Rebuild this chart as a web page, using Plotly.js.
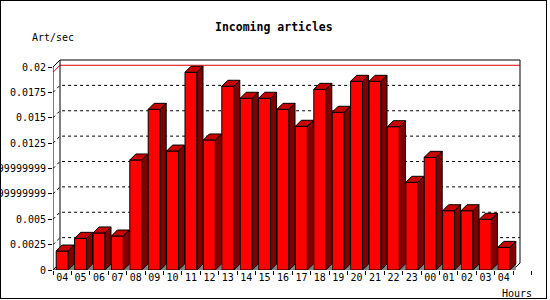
<!DOCTYPE html>
<html><head><meta charset="utf-8">
<script src="https://cdn.plot.ly/plotly-3.0.1.min.js"></script>
<style>
html,body{margin:0;padding:0;background:#fff;}
#wrap{position:relative;width:550px;height:300px;}
#chart{width:550px;height:300px;}
#frame{position:absolute;left:0;top:0;width:545px;height:297px;border:1px solid #000;pointer-events:none;}
</style></head>
<body><div id="wrap"><div id="chart"></div><div id="frame"></div></div>
<script>
// ---- data ----
const hours = ['04','05','06','07','08','09','10','11','12','13','14','15','16','17','18','19','20','21','22','23','00','01','02','03','04'];
const artPerSec = [0.00187,0.00312,0.00365,0.00335,0.01084,0.01583,0.01172,0.01948,0.01281,0.0181,0.01692,0.01692,0.01583,0.01416,0.0178,0.01554,0.01859,0.01859,0.01412,0.00864,0.0111,0.00584,0.00584,0.005,0.00223];
const yTickVals = [0,0.0025,0.005,0.0075,0.01,0.0125,0.015,0.0175,0.02];
const yTickText = ['0','0.0025','0.005','0.00749999999999','0.00999999999999','0.0125','0.015','0.0175','0.02'];

// ---- geometry (pixels) ----
const W=550,H=300;
const left=53, frontRight=513, zeroPx=270, topPx=67;
const n = hours.length;
const pxX = (frontRight-left)/n;          // px per category
const yMaxTick = 0.02;
const pxY = (zeroPx-topPx)/yMaxTick;        // px per unit
const plotRight=532, plotTop=50;
const xMin=-0.5, xMax=-0.5+(plotRight-left)/pxX;
const yMin=0, yMax=(zeroPx-plotTop)/pxY;
const panelDX=7/pxX, panelDY=7/pxY;
const barDX=6/pxX, barDY=6/pxY;
const barW=12/pxX;
const xs = hours.map((h,i)=>i);

const shapes=[];
const xl=-0.5, xr=-0.5+n;
// back gridlines (dashed)
yTickVals.slice(1,-1).forEach(v=>{
  shapes.push({type:'path',xref:'x',yref:'y',layer:'below',
    path:`M${xl},${v} L${xl+panelDX},${v+panelDY} L${xr+panelDX},${v+panelDY}`,
    line:{color:'#000',width:1,dash:'3px,3px'}});
});
// max line (red)
const vmax=Math.max(...artPerSec);
shapes.push({type:'path',xref:'x',yref:'y',layer:'below',
  path:`M${xl},${vmax} L${xl+panelDX},${vmax+panelDY} L${xr+panelDX},${vmax+panelDY}`,
  line:{color:'#e00000',width:1}});
// frame
shapes.push({type:'path',xref:'x',yref:'y',layer:'below',
  path:`M${xl},0 L${xl},${yMaxTick} L${xl+panelDX},${yMaxTick+panelDY} L${xr+panelDX},${yMaxTick+panelDY} L${xr+panelDX},${panelDY} L${xr},0 Z`,
  line:{color:'#000',width:1}});
shapes.push({type:'path',xref:'x',yref:'y',layer:'below',
  path:`M${xl},0 L${xl+panelDX},${panelDY} L${xl+panelDX},${yMaxTick+panelDY}`,
  line:{color:'#000',width:1}});
// bar sides / tops / floor shadows
artPerSec.forEach((v,i)=>{
  const a=i-barW/2, b=i+barW/2;
  shapes.push({type:'path',xref:'x',yref:'y',layer:'above',
    path:`M${b},0 L${b+barDX},${barDY} L${b+barDX},0 Z`,
    fillcolor:'#808080',line:{width:0}});
  shapes.push({type:'path',xref:'x',yref:'y',layer:'above',
    path:`M${b},0 L${b+barDX},${barDY} L${b+barDX},${v+barDY} L${b},${v} Z`,
    fillcolor:'#800000',line:{color:'#000',width:1}});
  shapes.push({type:'path',xref:'x',yref:'y',layer:'above',
    path:`M${a},${v} L${a+barDX},${v+barDY} L${b+barDX},${v+barDY} L${b},${v} Z`,
    fillcolor:'#c80000',line:{color:'#000',width:1}});
});

const font='"DejaVu Sans Mono", monospace';
const data=[{type:'bar',x:xs,y:artPerSec,width:barW,
  marker:{color:'#ff0000',line:{color:'#000',width:1}},hoverinfo:'skip'}];

const layout={
  width:W,height:H,
  margin:{l:left,r:W-plotRight,t:plotTop,b:H-zeroPx,pad:0},
  paper_bgcolor:'#fff',plot_bgcolor:'rgba(0,0,0,0)',
  showlegend:false,bargap:0,
  font:{family:font,size:10,color:'#000'},
  xaxis:{range:[xMin,xMax],showgrid:false,zeroline:false,showline:false,
    tickmode:'array',tickvals:xs,ticktext:hours,ticks:'',
    tickfont:{family:font,size:10},
    minor:{tickmode:'linear',tick0:-0.5,dtick:1,ticks:'outside',ticklen:4,tickcolor:'#000',tickwidth:1,showgrid:false},
    automargin:false,fixedrange:true},
  yaxis:{range:[yMin,yMax],showgrid:false,zeroline:false,showline:false,
    tickmode:'array',tickvals:yTickVals,ticktext:yTickText,
    ticks:'outside',ticklen:4,tickcolor:'#000',tickwidth:1,
    tickfont:{family:font,size:10},automargin:false,fixedrange:true},
  shapes:shapes,
  annotations:[
    {text:'<b>Incoming articles</b>',xref:'paper',yref:'paper',x:(274-left)/(plotRight-left),y:1,yshift:(plotTop-27),
     xanchor:'center',yanchor:'middle',showarrow:false,font:{family:font,size:11.5}},
    {text:'Art/sec',xref:'paper',yref:'paper',x:0,xshift:30-left,y:1,yshift:(plotTop-37),
     xanchor:'left',yanchor:'middle',showarrow:false,font:{family:font,size:10}},
    {text:'Hours',xref:'paper',yref:'paper',x:1,xshift:534-plotRight,y:0,yshift:-(293-zeroPx),
     xanchor:'right',yanchor:'middle',showarrow:false,font:{family:font,size:10}}
  ]
};
Plotly.newPlot('chart',data,layout,{staticPlot:true,displayModeBar:false});
</script></body></html>
